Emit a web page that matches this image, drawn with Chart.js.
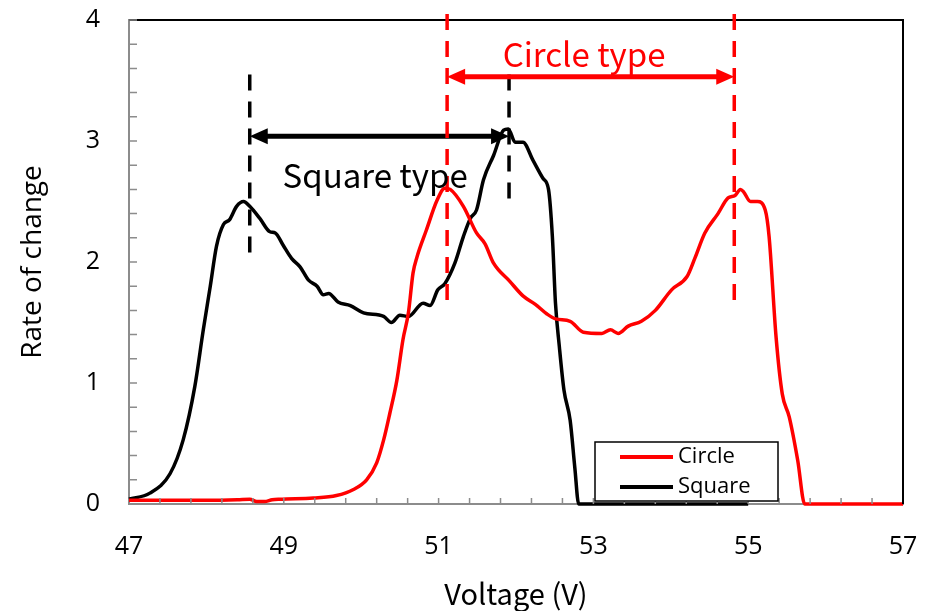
<!DOCTYPE html>
<html>
<head>
<meta charset="utf-8">
<script src="https://cdn.jsdelivr.net/npm/chart.js@4.4.1/dist/chart.umd.min.js"></script>
<style>
  html, body { margin: 0; padding: 0; background: #fff; }
  #wrap { width: 930px; height: 611px; }
</style>
</head>
<body>
<div id="wrap"><canvas id="rateChart"></canvas></div>
<script>
// Circle type curve (voltage, rate of change)
const circleV = [47.0, 47.5, 48.0, 48.4, 48.56, 48.65, 48.75, 48.85, 48.95, 49.38, 49.68, 49.90, 50.07, 50.20, 50.29, 50.37, 50.46, 50.54, 50.61, 50.67, 50.72, 50.84, 50.98, 51.08, 51.15, 51.32, 51.49, 51.60, 51.71, 51.92, 52.09, 52.25, 52.40, 52.51, 52.70, 52.87, 53.11, 53.22, 53.32, 53.45, 53.62, 53.80, 54.01, 54.21, 54.31, 54.44, 54.61, 54.74, 54.83, 54.90, 54.94, 55.03, 55.12, 55.22, 55.27, 55.36, 55.44, 55.53, 55.64, 55.73, 57.0];
const circleRate = [0.03, 0.03, 0.03, 0.035, 0.04, 0.02, 0.02, 0.035, 0.04, 0.05, 0.07, 0.12, 0.20, 0.34, 0.53, 0.75, 1.02, 1.36, 1.58, 1.91, 2.04, 2.26, 2.51, 2.61, 2.60, 2.46, 2.24, 2.15, 1.99, 1.84, 1.72, 1.65, 1.57, 1.53, 1.51, 1.42, 1.41, 1.44, 1.41, 1.47, 1.51, 1.60, 1.77, 1.88, 2.03, 2.24, 2.40, 2.53, 2.55, 2.60, 2.58, 2.50, 2.50, 2.43, 2.21, 1.38, 0.91, 0.72, 0.36, 0, 0];

// Square type curve
const squareV = [47.0, 47.27, 47.53, 47.70, 47.85, 47.96, 48.05, 48.13, 48.22, 48.30, 48.39, 48.48, 48.56, 48.69, 48.82, 48.89, 48.99, 49.10, 49.21, 49.32, 49.43, 49.51, 49.58, 49.70, 49.86, 50.03, 50.29, 50.39, 50.50, 50.61, 50.80, 50.89, 50.99, 51.08, 51.21, 51.32, 51.41, 51.49, 51.58, 51.71, 51.84, 51.90, 51.99, 52.09, 52.22, 52.35, 52.42, 52.47, 52.51, 52.56, 52.62, 52.70, 52.76, 52.81, 55.0];
const squareRate = [0.04, 0.09, 0.25, 0.53, 0.97, 1.44, 1.80, 2.13, 2.31, 2.35, 2.46, 2.50, 2.46, 2.36, 2.25, 2.24, 2.14, 2.03, 1.96, 1.85, 1.80, 1.73, 1.74, 1.67, 1.64, 1.58, 1.55, 1.50, 1.56, 1.55, 1.66, 1.64, 1.77, 1.82, 1.99, 2.21, 2.36, 2.43, 2.68, 2.88, 3.09, 3.10, 2.99, 2.99, 2.84, 2.69, 2.60, 2.21, 1.66, 1.30, 0.94, 0.69, 0.30, 0, 0];

// axis tick labels
const xTicks = [47, 49, 51, 53, 55, 57];
const yTicks = [0, 1, 2, 3, 4];

// peak markers: [voltage, bottom of dashed line]
const squareMarks = [[48.56, 2.03], [51.91, 2.51]];
const circleMarks = [[51.11, 1.62], [54.82, 1.67]];
const squareArrowY = 3.04;
const circleArrowY = 3.53;

const tickFont = { family: 'Open Sans', size: 25 };

function arrowHead(ctx, x, y, dir) {
    ctx.beginPath();
    ctx.moveTo(x, y);
    ctx.lineTo(x + dir * 18, y - 8);
    ctx.lineTo(x + dir * 18, y + 8);
    ctx.closePath();
    ctx.fill();
}

function drawSpan(ctx, xs, ys, marks, arrowY, color, top) {
    ctx.save();
    ctx.strokeStyle = color;
    ctx.fillStyle = color;
    // dashed vertical lines
    ctx.lineWidth = 3.5;
    ctx.setLineDash([16, 11]);
    marks.forEach(m => {
        ctx.beginPath();
        ctx.moveTo(xs.getPixelForValue(m[0]), top);
        ctx.lineTo(xs.getPixelForValue(m[0]), ys.getPixelForValue(m[1]));
        ctx.stroke();
    });
    // double arrow
    ctx.setLineDash([]);
    const x1 = xs.getPixelForValue(marks[0][0]);
    const x2 = xs.getPixelForValue(marks[1][0]);
    const y = ys.getPixelForValue(arrowY);
    ctx.lineWidth = 5;
    ctx.beginPath();
    ctx.moveTo(x1 + 10, y);
    ctx.lineTo(x2 - 10, y);
    ctx.stroke();
    arrowHead(ctx, x1, y, 1);
    arrowHead(ctx, x2, y, -1);
    ctx.restore();
}

// scales add their tick padding to the layout; drop it so layout.padding rules
function noScalePadding(s) {
    s.paddingTop = 0;
    s.paddingBottom = 0;
    s.paddingLeft = 0;
    s.paddingRight = 0;
}

const extrasPlugin = {
    id: 'extras',
    afterDatasetsDraw(chart) {
        const ctx = chart.ctx;
        const xs = chart.scales.x, ys = chart.scales.y;
        const a = chart.chartArea;

        // top and right frame
        ctx.save();
        ctx.strokeStyle = '#000';
        ctx.lineWidth = 2;
        ctx.beginPath();
        ctx.moveTo(a.left, a.top);
        ctx.lineTo(a.right, a.top);
        ctx.lineTo(a.right, a.bottom);
        ctx.stroke();

        // minor ticks, drawn inward
        ctx.strokeStyle = '#8c8c8c';
        ctx.lineWidth = 1.5;
        ctx.beginPath();
        for (let i = 1; i < 25; i++) {
            const px = xs.getPixelForValue(47 + i * 0.4);
            ctx.moveTo(px, a.bottom);
            ctx.lineTo(px, a.bottom - 6);
        }
        for (let i = 1; i <= 20; i++) {
            const py = ys.getPixelForValue(i * 0.2);
            ctx.moveTo(a.left, py);
            ctx.lineTo(a.left + 8, py);
        }
        ctx.stroke();
        ctx.restore();

        drawSpan(ctx, xs, ys, squareMarks, squareArrowY, '#000', ys.getPixelForValue(3.55));
        drawSpan(ctx, xs, ys, circleMarks, circleArrowY, '#ff0000', a.top - 6);

        // labels
        ctx.save();
        ctx.font = '33px "Noto Sans CJK JP"';
        ctx.textAlign = 'center';
        ctx.textBaseline = 'alphabetic';
        ctx.fillStyle = '#000';
        ctx.fillText('Square type', xs.getPixelForValue(50.18), ys.getPixelForValue(2.61));
        ctx.fillStyle = '#ff0000';
        ctx.fillText('Circle type', xs.getPixelForValue(52.88), ys.getPixelForValue(3.61));
        ctx.restore();

        // legend box
        const lx = 595, ly = 442, lw = 183, lh = 59;
        ctx.save();
        ctx.fillStyle = '#fff';
        ctx.fillRect(lx, ly, lw, lh);
        ctx.strokeStyle = '#000';
        ctx.lineWidth = 1.5;
        ctx.strokeRect(lx, ly, lw, lh);
        const items = [['Circle', '#ff0000'], ['Square', '#000']];
        items.forEach((it, i) => {
            const y = ly + 15 + i * 30;
            ctx.strokeStyle = it[1];
            ctx.lineWidth = 4;
            ctx.beginPath();
            ctx.moveTo(lx + 25, y);
            ctx.lineTo(lx + 78, y);
            ctx.stroke();
            ctx.fillStyle = '#000';
            ctx.font = '22px "Open Sans"';
            ctx.textBaseline = 'middle';
            ctx.fillText(it[0], lx + 83, y);
        });
        ctx.restore();
    }
};

function initChart() {
    const ctx = document.getElementById('rateChart').getContext('2d');

    new Chart(ctx, {
        type: 'line',
        data: {
            datasets: [{
                label: 'Circle',
                data: circleV.map((v, i) => ({ x: v, y: circleRate[i] })),
                borderColor: '#ff0000',
                borderWidth: 3.5,
                pointRadius: 0,
                cubicInterpolationMode: 'monotone',
                clip: false
            }, {
                label: 'Square',
                data: squareV.map((v, i) => ({ x: v, y: squareRate[i] })),
                borderColor: '#000',
                borderWidth: 3.5,
                pointRadius: 0,
                cubicInterpolationMode: 'monotone',
                clip: false
            }]
        },
        options: {
            responsive: true,
            maintainAspectRatio: false,
            animation: false,
            layout: { padding: { left: 0, top: 20, right: 27, bottom: 0 } },
            plugins: {
                legend: { display: false },
                tooltip: { enabled: false }
            },
            scales: {
                x: {
                    type: 'linear',
                    min: 47,
                    max: 57,
                    afterBuildTicks: s => { s.ticks = xTicks.map(v => ({ value: v })); },
                    afterFit: s => { s.height = 107; noScalePadding(s); },
                    grid: { display: false, drawTicks: false },
                    border: { display: true, color: '#8c8c8c', width: 2 },
                    ticks: { color: '#000', font: tickFont, padding: 28, maxRotation: 0 },
                    title: {
                        display: true,
                        text: 'Voltage (V)',
                        color: '#000',
                        font: { family: 'Noto Sans CJK JP', size: 29 },
                        padding: 0
                    }
                },
                y: {
                    min: 0,
                    max: 4,
                    afterBuildTicks: s => { s.ticks = yTicks.map(v => ({ value: v })); },
                    afterFit: s => { s.width = 129; noScalePadding(s); },
                    grid: { display: false, drawTicks: false },
                    border: { display: true, color: '#8c8c8c', width: 2 },
                    ticks: { color: '#000', font: tickFont, padding: 29 },
                    title: {
                        display: true,
                        text: 'Rate of change',
                        color: '#000',
                        font: { family: 'Open Sans', size: 28 },
                        padding: { top: 16 }
                    }
                }
            }
        },
        plugins: [extrasPlugin]
    });
}

document.addEventListener('DOMContentLoaded', initChart);
</script>
</body>
</html>
